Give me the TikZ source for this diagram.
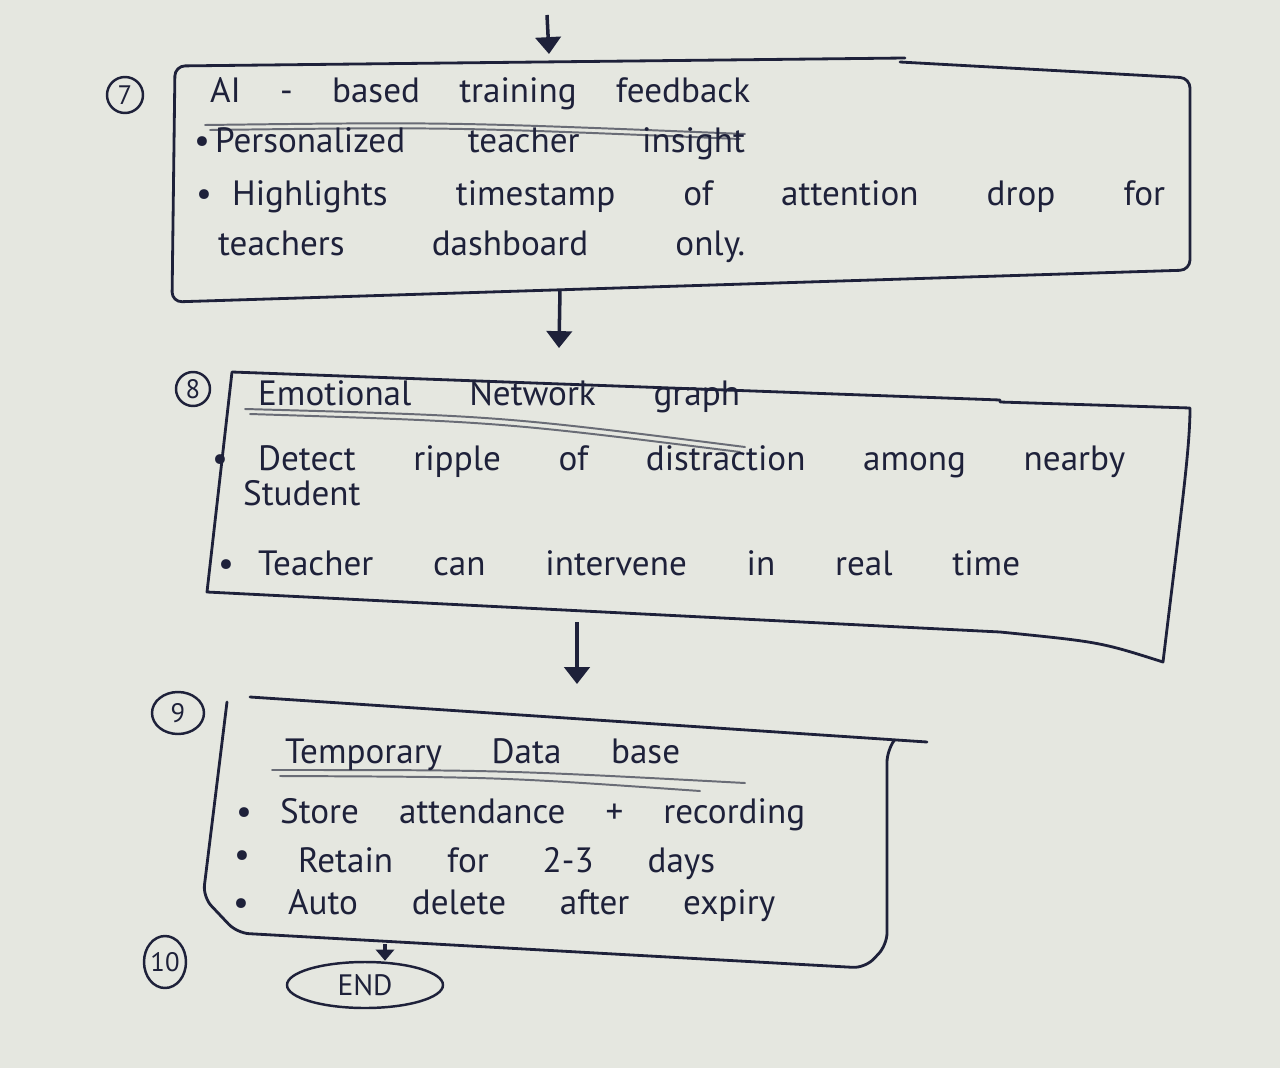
\documentclass[tikz,border=0pt]{standalone}
\usepackage{fontspec}
\setmainfont{PT Sans}
\usetikzlibrary{arrows.meta,shapes.geometric}
\newlength\pxu \setlength\pxu{0.05cm}
\newcommand{\hw}[2]{\makebox[#1\pxu][s]{#2}}
\definecolor{paper}{RGB}{229,231,224}
\definecolor{ink}{RGB}{30,33,58}
\definecolor{pencil}{RGB}{105,108,118}
\begin{document}
\begin{tikzpicture}[x=0.05cm,y=-0.05cm,
  box/.style={draw=ink, line width=4pt, line join=round, line cap=round},
  uline/.style={draw=pencil, line width=2.8pt, line cap=round},
  txt/.style={text=ink, inner sep=0pt, anchor=base west, font=\fontsize{50}{58}\selectfont},
  arr/.style={draw=ink, line width=5pt, -{Triangle[width=36pt,length=24pt]}},
  num/.style={draw=ink, line width=3.5pt, ellipse, inner sep=0pt, text=ink, font=\fontsize{38}{38}\selectfont}]
\fill[paper] (0,0) rectangle (1280,1068);
\useasboundingbox (0,0) rectangle (1280,1068);

% ---------- box 7 ----------
\draw[box, rounded corners=0.5cm] (905,58) -- (175,66) -- (172,302) -- (1190,270) -- (1190,78) -- (900,62);
\draw[uline] (205,125) .. controls (450,122) .. (745,134);
\draw[uline] (210,130) .. controls (450,127) .. (740,139);
\node[txt] (t7a) at (210,102) {\hw{540}{AI - based training feedback}};
\node[txt] (b7a) at (194,152) {\textbullet};
\node[txt] (t7b) at (215,152) {\hw{530}{Personalized teacher insight}};
\node[txt] (b7b) at (196,205) {\textbullet};
\node[txt] (t7c) at (232,205) {\hw{933}{Highlights timestamp of attention drop for}};
\node[txt] (t7d) at (218,255) {\hw{527}{teachers dashboard only.}};
\node[num, minimum width=1.8cm, minimum height=1.8cm] (n7) at (125,95) {7};

% ---------- box 8 ----------
\draw[box] (1000,400) -- (232,372) -- (207,592) -- (1000,632) .. controls (1100,642) .. (1163,662)
  .. controls (1180,520) and (1190,450) .. (1190,408) -- (1000,402);
\draw[uline] (245,409) .. controls (500,416) .. (745,447);
\draw[uline] (250,414) .. controls (500,422) .. (740,452);
\node[txt] (t8a) at (258,405) {\hw{482}{Emotional Network graph}};
\node[txt] (b8a) at (212,470) {\textbullet};
\node[txt] (t8b) at (258,470) {\hw{867}{Detect ripple of distraction among nearby}};
\node[txt] (t8c) at (243,505) {Student};
\node[txt] (b8b) at (218,575) {\textbullet};
\node[txt] (t8d) at (258,575) {\hw{762}{Teacher can intervene in real time}};
\node[num, minimum width=1.7cm, minimum height=1.7cm] (n8) at (193,389) {8};

% ---------- box 9 ----------
\draw[box] (250,697) -- (927,742);
\draw[box, rounded corners=0.6cm] (227,702) -- (203,897) -- (237,933) -- (865,968) -- (887,945) -- (887,750) -- (893,742);
\draw[uline] (272,770) .. controls (500,770) .. (745,783);
\draw[uline] (280,776) .. controls (500,777) .. (700,791);
\node[txt] (t9a) at (285,763) {\hw{395}{Temporary Data base}};
\node[txt] (b9a) at (236,823) {\textbullet};
\node[txt] (t9b) at (280,823) {\hw{525}{Store attendance + recording}};
\node[txt] (b9b) at (234,866) {\textbullet};
\node[txt] (t9c) at (298,872) {\hw{417}{Retain for 2-3 days}};
\node[txt] (b9c) at (233,914) {\textbullet};
\node[txt] (t9d) at (288,914) {\hw{487}{Auto delete after expiry}};
\node[num, minimum width=2.6cm, minimum height=2.1cm] (n9) at (178,713) {9};

% ---------- end ----------
\node[num, minimum width=2.1cm, minimum height=2.6cm] (n10) at (165,962) {10};
\node[num, minimum width=7.8cm, minimum height=2.3cm, font=\fontsize{42}{42}\selectfont] (endn) at (365,985) {END};

% ---------- connectors ----------
\coordinate (s0) at (547,15);
\coordinate (e0) at (549,54);
\coordinate (s1) at (560,290);
\coordinate (e1) at (559,348);
\coordinate (s2) at (577,622);
\coordinate (e2) at (577,684);
\coordinate (s3) at (385,944);
\draw[arr] (s0) -- (e0);
\draw[arr] (s1) -- (e1);
\draw[arr] (s2) -- (e2);
\draw[arr, -{Triangle[width=26pt,length=16pt]}] (s3) -- (endn.north -| s3);
\end{tikzpicture}
\end{document}
